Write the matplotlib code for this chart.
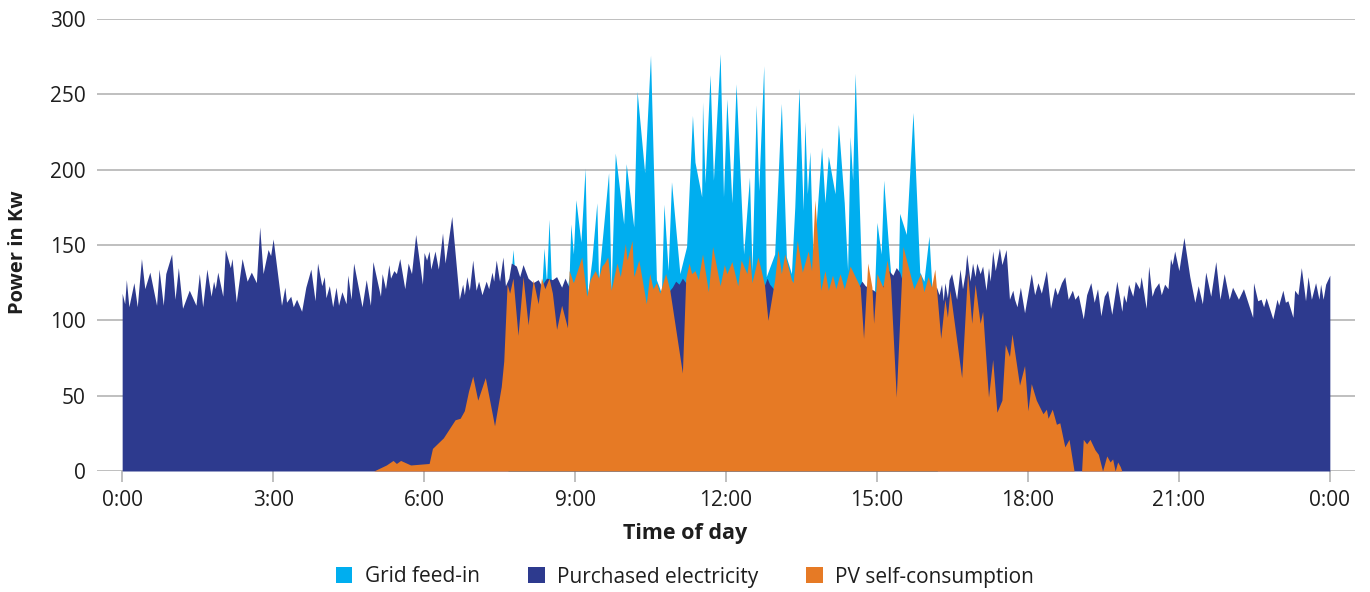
import numpy as np
import matplotlib
matplotlib.use("Agg")
import matplotlib.pyplot as plt
from matplotlib.patches import Patch

# ---------------- data (minutes of day, kW) ----------------
load_min = [0, 3, 5, 8, 14, 18, 23, 27, 33, 41, 44, 49, 52, 59, 63, 67, 72, 80, 88, 92, 96, 101, 106, 109, 111, 114,
            120, 123, 129, 131, 136, 143, 149, 154, 160, 164, 168, 174, 177, 180, 190, 194, 196, 201, 204, 208, 214,
            219, 225, 230, 233, 238, 241, 243, 247, 251, 255, 258, 262, 267, 269, 273, 276, 286, 291, 296, 299, 308,
            310, 314, 318, 320, 324, 327, 331, 337, 341, 345, 350, 358, 360, 363, 366, 368, 373, 377, 382, 385, 393,
            402, 406, 408, 411, 414, 418, 422, 425, 429, 434, 437, 441, 443, 446, 450, 454, 457, 461, 464, 470, 474,
            478, 484, 490, 496, 500, 506, 513, 518, 524, 528, 532,
            540, 555, 583, 600, 626, 640, 650, 656, 660, 664, 668, 672, 678, 682, 700, 720, 745, 765, 769, 772, 778,
            800, 835, 860, 878, 882, 886, 892, 896, 900, 910, 914, 919, 923, 927, 931, 945, 960, 966,
            971, 974, 977, 979, 981, 984, 986, 989, 995, 999, 1002, 1005, 1007, 1011, 1014, 1017, 1019, 1023, 1026,
            1030, 1033, 1035, 1038, 1041, 1046, 1049, 1054, 1058, 1062, 1064, 1067, 1071, 1076, 1084, 1088, 1092,
            1096, 1102, 1107, 1112, 1115, 1120, 1124, 1128, 1133, 1136, 1140, 1146, 1150, 1155, 1159, 1163, 1167,
            1171, 1175, 1180, 1186, 1192, 1194, 1197, 1200, 1205, 1208, 1213, 1215, 1221, 1224, 1228, 1231, 1236,
            1239, 1243, 1247, 1250, 1252, 1255, 1260, 1266, 1273, 1279, 1283, 1288, 1292, 1298, 1304, 1309, 1314,
            1320, 1324, 1331, 1337, 1348, 1349, 1354, 1358, 1361, 1364, 1372, 1377, 1379, 1384, 1387, 1390, 1396,
            1398, 1402, 1406, 1411, 1414, 1418, 1423, 1427, 1429, 1432, 1435, 1440]
load_kw = [118, 111, 127, 109, 125, 109, 141, 121, 132, 110, 134, 110, 131, 144, 114, 135, 108, 120, 110, 131, 109,
           134, 116, 126, 121, 132, 116, 147, 135, 141, 112, 141, 126, 132, 125, 162, 131, 147, 143, 154, 110, 122,
           112, 116, 109, 114, 106, 122, 134, 113, 138, 123, 129, 115, 123, 109, 122, 110, 119, 111, 130, 114, 138,
           109, 127, 110, 139, 116, 131, 121, 137, 128, 133, 131, 141, 121, 138, 131, 157, 124, 145, 140, 146, 134,
           146, 134, 158, 138, 169, 114, 124, 117, 129, 120, 140, 120, 126, 117, 126, 121, 132, 126, 140, 126, 142,
           123, 128, 138, 136, 129, 137, 128, 125, 127, 123, 128, 127, 129, 122, 128, 123,
           118, 112, 115, 118, 108, 115, 118, 122, 126, 124, 128, 125, 127, 118, 115, 118, 118, 122, 128, 124, 120,
           120, 115, 118, 122, 126, 123, 121, 120, 118, 125, 133, 130, 135, 132, 125, 115, 112, 118,
           122, 117, 124, 113, 125, 115, 127, 131, 114, 134, 121, 131, 144, 126, 138, 129, 138, 131, 136,
           120, 135, 126, 146, 133, 148, 137, 147, 114, 120, 114, 109, 122, 105, 131, 117, 125,
           118, 133, 108, 122, 117, 125, 129, 114, 120, 114, 117, 101, 117, 125, 112, 121, 103,
           116, 120, 104, 126, 106, 117, 112, 124, 116, 126, 121, 129, 108, 136, 116, 121, 125,
           117, 124, 121, 141, 137, 146, 133, 155, 129, 112, 123, 111, 132, 116, 139, 114, 131,
           114, 122, 114, 121, 102, 125, 113, 114, 109, 115, 101, 114, 110, 120, 112, 113, 102,
           120, 117, 135, 113, 129, 114, 125, 114, 124, 114, 124, 130]

feed_min = [460, 463, 466, 469, 472, 500, 503, 506, 509, 512, 530, 533, 535, 538, 541, 547, 552, 555, 560, 566, 568,
            580, 583, 588, 598, 601, 610, 614, 623, 630, 637, 643, 646, 651, 655, 665, 673, 680, 683, 691, 692, 695,
            701, 705, 713, 717, 721, 727, 732, 741, 748, 751, 756, 759, 765, 768, 778, 786, 792, 798, 802, 807, 812,
            814, 817, 820, 824, 834, 838, 842, 850, 854, 861, 865, 868, 871, 874, 882, 890, 897, 900, 905, 908, 915,
            918, 925, 927, 935, 943, 951, 956, 962, 966, 972]
feed_kw = [100, 125, 147, 125, 110, 118, 148, 125, 167, 122, 118, 130, 164, 144, 180, 152, 201, 117, 140, 178, 127,
           198, 120, 211, 164, 204, 162, 252, 198, 276, 127, 118, 177, 133, 192, 131, 149, 236, 205, 182, 245, 191,
           263, 193, 277, 182, 247, 178, 257, 144, 195, 133, 243, 186, 269, 129, 144, 244, 142, 131, 175, 254, 173,
           232, 184, 212, 136, 215, 178, 209, 184, 230, 178, 133, 222, 193, 264, 122, 110, 118, 165, 144, 193, 140,
           120, 120, 171, 157, 238, 132, 126, 156, 117, 100]

pv_min = [300, 315, 323, 327, 332, 344, 366, 370, 383, 397, 403, 408, 413, 418, 424, 433, 444, 452, 455, 459, 462,
          466, 472, 478, 484, 490, 496, 500, 504, 509, 513, 518, 524, 531, 533, 538, 548, 554, 558, 564, 568, 572,
          575, 579, 583, 590, 594, 600, 602, 608, 610, 616, 625, 629, 633, 637, 641, 648, 653, 668, 672, 676, 679,
          683, 687, 692, 699, 704, 713, 718, 721, 727, 734, 738, 745, 748, 751, 758, 762, 766, 770, 778, 782, 786,
          790, 798, 800, 805, 811, 818, 822, 826, 833, 838, 842, 847, 851, 856, 861, 868, 880, 884, 889, 894, 896,
          900, 907, 912, 916, 923, 931, 944, 952, 956, 961, 965, 969, 976, 981, 984, 987, 1001, 1008, 1013, 1017,
          1023, 1026, 1033, 1038, 1043, 1049, 1053, 1058, 1061, 1070, 1076, 1080, 1084, 1090, 1098, 1102, 1104,
          1109, 1114, 1118, 1124, 1129, 1135, 1144, 1146, 1150, 1154, 1160, 1164, 1169, 1174, 1178, 1181, 1184,
          1187, 1190, 1192]
pv_kw = [0, 4, 7, 5, 7, 4, 5, 15, 22, 34, 35, 40, 53, 63, 47, 62, 30, 56, 73, 124, 118,
         128, 90, 129, 97, 127, 111, 128, 121, 128, 118, 94, 110, 95, 133, 125, 142, 116, 127, 133, 128, 136,
         138, 142, 120, 138, 129, 151, 140, 153, 129, 140, 111, 131, 121, 125, 118, 131, 120, 65, 128, 138, 131,
         133, 127, 144, 119, 149, 123, 137, 131, 139, 123, 140, 131, 144, 125, 142, 133, 123, 100, 127, 147, 131,
         144, 127, 125, 153, 132, 146, 133, 180, 120, 133, 120, 130, 121, 131, 121, 136, 122, 88, 138, 122, 98,
         131, 122, 140, 127, 49, 149, 121, 131, 119, 129, 122, 134, 88, 114, 102, 120, 62, 132, 98, 124,
         98, 106, 49, 74, 39, 47, 84, 76, 91, 57, 70, 40, 58, 47, 38, 41, 35,
         41, 31, 32, 16, 21, 0, 0, 21, 18, 21, 14, 11, 0, 10, 6, 8, 0,
         6, 3, 0]

tick_min = [0, 180, 360, 540, 720, 900, 1080, 1260, 1440]
tick_labels = ["0:00", "3:00", "6:00", "9:00", "12:00", "15:00", "18:00", "21:00", "0:00"]
y_ticks = [0, 50, 100, 150, 200, 250, 300]

series_names = ["Grid feed-in", "Purchased electricity", "PV self-consumption"]
c_feed, c_buy, c_pv = "#00AEEF", "#2D3A8E", "#E67A25"

# ---------------- plot ----------------
plt.rcParams['font.family'] = ['Open Sans', 'DejaVu Sans']
txt = "#1e1e1e"

fig = plt.figure(figsize=(13.7, 5.92), dpi=100)
ax = fig.add_axes([97 / 1370, 1 - 471 / 592, (1355 - 97) / 1370, (471 - 19) / 592])

ax.fill_between(feed_min, 0, feed_kw, color=c_feed, lw=0, zorder=2)
ax.fill_between(load_min, 0, load_kw, color=c_buy, lw=0, zorder=3)
ax.fill_between(pv_min, 0, pv_kw, color=c_pv, lw=0, zorder=4)

ax.set_xlim(-30, 1470)
ax.set_ylim(0, 300)
ax.set_yticks(y_ticks)
ax.set_xticks(tick_min)
ax.set_xticklabels(tick_labels)
ax.yaxis.grid(True, color="#b4b4b4", lw=1.2, zorder=1)
ax.set_axisbelow(True)
for s in ax.spines.values():
    s.set_visible(False)
ax.tick_params(axis='y', length=0, pad=8, labelsize=15, labelcolor=txt)
ax.tick_params(axis='x', length=8, width=1.2, color="#b4b4b4", pad=6, labelsize=15, labelcolor=txt)

fig.text(0.5, 1 - 534 / 592, "Time of day", ha='center', va='center', fontsize=15.5,
         fontweight='bold', color=txt)
fig.text(18 / 1370, 1 - 252 / 592, "Power in Kw", ha='center', va='center', rotation=90,
         fontsize=14.5, fontweight='bold', color=txt)

handles = [Patch(facecolor=c, edgecolor='none') for c in (c_feed, c_buy, c_pv)]
fig.legend(handles, series_names, loc='center', bbox_to_anchor=(0.5, 1 - 577 / 592), ncol=3,
           frameon=False, fontsize=15, handlelength=0.8, handleheight=0.8, handletextpad=0.6,
           columnspacing=2.3, labelcolor=txt)

fig.savefig("out.png", dpi=100)
